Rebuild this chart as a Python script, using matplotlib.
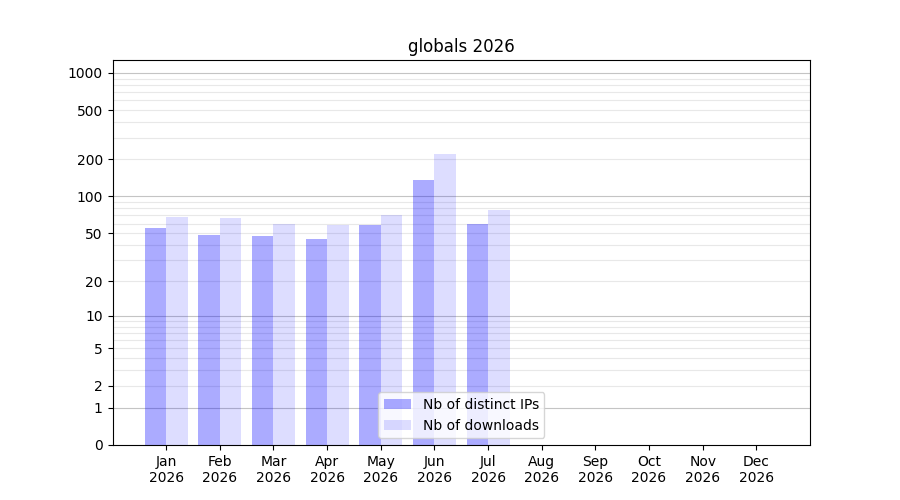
import numpy as np
import matplotlib
matplotlib.use("Agg")
import matplotlib.pyplot as plt

months = ["Jan", "Feb", "Mar", "Apr", "May", "Jun", "Jul", "Aug", "Sep", "Oct", "Nov", "Dec"]
year = "2026"
distinct_ips = [55, 48, 47, 45, 58, 136, 59]
downloads = [68, 67, 60, 58, 71, 221, 78]
yticks = [0, 1, 2, 5, 10, 20, 50, 100, 200, 500, 1000]


def fwd(v):
    return np.log10(1 + np.clip(v, 0, None))


def inv(v):
    return 10 ** v - 1


fig, ax = plt.subplots(figsize=(9, 5), dpi=100)
ax.set_yscale("function", functions=(fwd, inv))
ax.set_ylim(0, 1270)
ax.set_xlim(-1, 12)

# grid: light lines on 2..9 multiples, darker on decades
for dec in [1, 10, 100]:
    for m in range(2, 10):
        ax.axhline(dec * m, color="#e8e8e8", linewidth=0.8, zorder=0)
for dec in [1, 10, 100, 1000]:
    ax.axhline(dec, color="#c4c4c4", linewidth=0.8, zorder=0)

x = np.arange(len(distinct_ips))
ax.bar(x - 0.2, distinct_ips, width=0.4, color="blue", alpha=0.33,
       label="Nb of distinct IPs", zorder=2)
ax.bar(x + 0.2, downloads, width=0.4, color="blue", alpha=0.133,
       label="Nb of downloads", zorder=2)

ax.set_yticks(yticks)
ax.set_yticklabels([str(t) for t in yticks])
ax.minorticks_off()
ax.set_xticks(np.arange(len(months)))
ax.set_xticklabels([m + "\n" + year for m in months])
ax.set_title("globals " + year)
ax.legend(loc="lower center")

plt.savefig("out.png", dpi=100)
